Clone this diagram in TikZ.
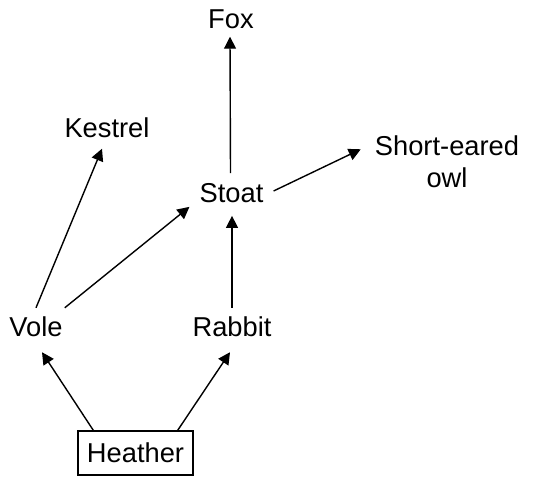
\documentclass[tikz,border=0pt]{standalone}
\usepackage{fontspec}
\setmainfont{Liberation Sans}
\usetikzlibrary{arrows.meta}
\begin{document}
\begin{tikzpicture}[x=1pt,y=-1pt,
  lbl/.style={inner sep=0pt,font=\fontsize{27.3}{32}\selectfont},
  boxed/.style={lbl,draw,line width=1.4pt,minimum width=115pt,minimum height=44pt},
  link/.style={line width=1.4pt,-{Triangle[length=12pt,width=12pt]}}]
\useasboundingbox (0,0) rectangle (555,477);
\node[lbl] (fox) at (231,19) {Fox};
\node[lbl] (kestrel) at (107,127.5) {Kestrel};
\node[lbl,align=center] (owl) at (447,161.5) {Short-eared\\owl};
\node[lbl] (stoat) at (231.5,193) {Stoat};
\node[lbl] (vole) at (36,327) {Vole};
\node[lbl] (rabbit) at (232,327) {Rabbit};
\node[boxed] (heather) at (135.5,453) {Heather};
\draw[link] ([shift={(-1,-10)}]stoat.north) -- ([shift={(-1,8)}]fox.south);
\draw[link] ([shift={(0,-9)}]vole.north) -- ([shift={(-5,11)}]kestrel.south);
\draw[link] ([shift={(10,-2)}]stoat.east) -- ([shift={(-14,14)}]owl.north west);
\draw[link] ([shift={(2,-9)}]vole.north east) -- ([shift={(-10,4)}]stoat.south west);
\draw[link] ([shift={(0,-9)}]rabbit.north) -- ([shift={(0.5,13)}]stoat.south);
\draw[link] ([shift={(16,0)}]heather.north west) -- ([shift={(6,15)}]vole.south);
\draw[link] ([shift={(-16,0)}]heather.north east) -- ([shift={(-2,15)}]rabbit.south);
\end{tikzpicture}
\end{document}
